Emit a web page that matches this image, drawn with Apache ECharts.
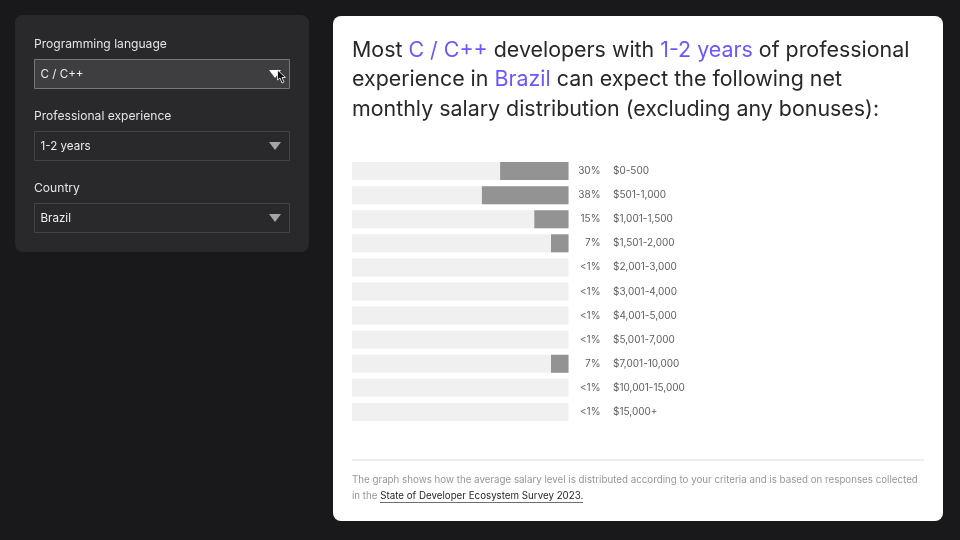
<!DOCTYPE html>
<html>
<head>
<meta charset="utf-8">
<title>Salary distribution</title>
<script src="https://cdn.jsdelivr.net/npm/echarts@6/dist/echarts.min.js"></script>
<style>
    html, body { margin: 0; padding: 0; background: #19191c; }
    #chartDiv { width: 960px; height: 540px; }
</style>
</head>
<body>
<div id="chartDiv"></div>

<script>
    var FONT = 'Inter';

    var salaryRanges = ['$0-500', '$501-1,000', '$1,001-1,500', '$1,501-2,000', '$2,001-3,000', '$3,001-4,000',
        '$4,001-5,000', '$5,001-7,000', '$7,001-10,000', '$10,001-15,000', '$15,000+'];
    // <1% rows show no fill in the picture, so they stay empty
    var shares = [30, 38, 15, 7, null, null, null, null, 7, null, null];
    var shareLabels = ['30%', '38%', '15%', '7%', '<1%', '<1%', '<1%', '<1%', '7%', '<1%', '<1%'];

    var filters = [
        {label: 'Programming language', value: 'C / C++', y: 59, active: true},
        {label: 'Professional experience', value: '1-2 years', y: 131},
        {label: 'Country', value: 'Brazil', y: 203}
    ];

    /** one label + select box of the left panel */
    function filterGraphics(f) {
        return [
            {type: 'text', z: 2, style: {x: 34, y: f.y - 15, text: f.label, fill: '#e4e4e6', font: '400 12.1px ' + FONT, verticalAlign: 'middle'}},
            {type: 'rect', z: 2, shape: {x: 34.5, y: f.y + 0.5, width: 255, height: 29},
                style: {fill: f.active ? '#3e3e41' : '#29292b', stroke: f.active ? '#77777a' : '#444446', lineWidth: 1}},
            {type: 'text', z: 3, style: {x: 40.5, y: f.y + 15.5, text: f.value, fill: '#eeeeef', font: '400 11.6px ' + FONT, verticalAlign: 'middle'}},
            {type: 'polygon', z: 3, shape: {points: [[269, f.y + 11], [281, f.y + 11], [275, f.y + 19]]},
                style: {fill: f.active ? '#ffffff' : '#a5a5a8'}}
        ];
    }

    var graphics = [
        {type: 'rect', z: 1, shape: {x: 15, y: 15, width: 294, height: 237, r: 8}, style: {fill: '#29292b'}},
        {type: 'rect', z: 0, shape: {x: 333, y: 16, width: 610, height: 505, r: 8}, style: {fill: '#ffffff'}},
        {type: 'text', z: 2, style: {
            x: 352, y: 35.5,
            text: 'Most {p|C / C++} developers with {p|1-2 years} of professional\n' +
                'experience in {p|Brazil} can expect the following net\n' +
                'monthly salary distribution (excluding any bonuses):',
            fill: '#27282c', font: '400 21.4px ' + FONT, lineHeight: 29.5,
            rich: {p: {fill: '#6b57ff', font: '400 21.4px ' + FONT, lineHeight: 29.5}}
        }},
        {type: 'line', z: 2, shape: {x1: 352, y1: 460, x2: 924, y2: 460}, style: {stroke: '#dcdcdc', lineWidth: 1}},
        {type: 'text', z: 2, style: {
            x: 352, y: 472.5,
            text: 'The graph shows how the average salary level is distributed according to your criteria and is based on responses collected\n' +
                'in the {a|State of Developer Ecosystem Survey 2023.}',
            fill: '#97979a', font: '400 9.75px ' + FONT, lineHeight: 15.5,
            rich: {a: {fill: '#27282c', font: '400 9.75px ' + FONT, lineHeight: 15.5}}
        }},
        {type: 'line', z: 2, shape: {x1: 380, y1: 502.5, x2: 583, y2: 502.5}, style: {stroke: '#6e6e70', lineWidth: 1}},
        // mouse pointer over the first select
        {type: 'polygon', z: 5, shape: {points: [[277.5, 70], [277.5, 80], [280, 78], [282, 83], [284, 82], [282, 77.5], [285.5, 77.5]]},
            style: {fill: '#111111', stroke: '#ffffff', lineWidth: 0.8}}
    ];
    filters.forEach(function (f) {
        graphics = graphics.concat(filterGraphics(f));
    });

    var chart = echarts.init(document.getElementById('chartDiv'), null, {renderer: 'canvas'});
    chart.setOption({
        animation: false,
        backgroundColor: '#19191c',
        textStyle: {fontFamily: FONT},
        graphic: {elements: graphics},
        grid: {left: 352, right: 391.5, top: 159, bottom: 116, containLabel: false},
        xAxis: {type: 'value', inverse: true, min: 0, max: 95, show: false},
        yAxis: [{
            type: 'category',
            inverse: true,
            position: 'right',
            data: salaryRanges,
            axisLine: {show: false},
            axisTick: {show: false},
            axisLabel: {margin: 44.5, color: '#5f5f62', fontSize: 10, fontFamily: FONT, align: 'left'}
        }, {
            type: 'category',
            inverse: true,
            position: 'right',
            data: shareLabels,
            axisLine: {show: false},
            axisTick: {show: false},
            axisLabel: {margin: 32, color: '#5f5f62', fontSize: 10, fontFamily: FONT, align: 'right'}
        }],
        series: [{
            type: 'bar',
            yAxisIndex: 0,
            z: 3,
            data: shares,
            barWidth: 18,
            barMinHeight: 17.5,
            showBackground: true,
            backgroundStyle: {color: '#f0f0f0'},
            itemStyle: {color: '#939394'}
        }]
    });
</script>
</body>
</html>
